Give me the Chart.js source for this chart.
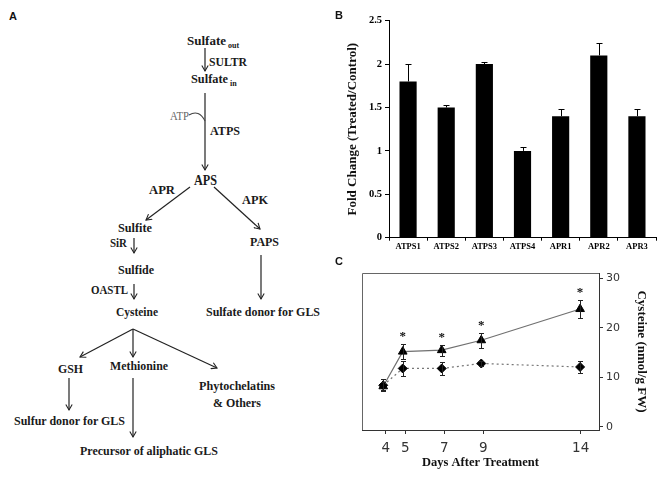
<!DOCTYPE html>
<html><head><meta charset="utf-8">
<script src="https://cdn.jsdelivr.net/npm/chart.js@4.4.1/dist/chart.umd.min.js"></script>
<style>
html,body{margin:0;padding:0;background:#fff;width:666px;height:484px;overflow:hidden;}
#wrap{position:relative;width:666px;height:484px;background:#fff;}
.panel{position:absolute;}
.plbl{position:absolute;font:bold 11px "Liberation Sans",Arial,sans-serif;color:#111;line-height:12px;}
svg text{font-family:"Liberation Serif","Times New Roman",serif;font-weight:bold;font-size:13px;fill:#1a1a1a;}
</style></head><body>
<div id="wrap">
<svg id="pathway" class="panel" style="left:0;top:0" width="330" height="484" viewBox="0 0 330 484">
<defs>
<marker id="ah" markerWidth="8" markerHeight="8" refX="6" refY="4" orient="auto" markerUnits="userSpaceOnUse">
<path d="M0.5,0.8 L6,4 L0.5,7.2" fill="none" stroke="#222" stroke-width="1.1"/>
</marker>
</defs>
<g stroke="#222" stroke-width="1.2" fill="none" marker-end="url(#ah)">
<line x1="205" y1="48" x2="205" y2="71"/>
<line x1="205" y1="93" x2="205" y2="170"/>
<line x1="190" y1="187" x2="146" y2="220"/>
<line x1="214" y1="187" x2="260" y2="229"/>
<line x1="134" y1="238" x2="134" y2="253"/>
<line x1="134" y1="284" x2="134" y2="299"/>
<line x1="261" y1="255" x2="261" y2="299"/>
<line x1="133" y1="329" x2="80" y2="357"/>
<line x1="133" y1="329" x2="133" y2="357"/>
<line x1="133" y1="329" x2="217" y2="368"/>
<line x1="69" y1="378" x2="69" y2="410"/>
<line x1="133" y1="378" x2="133" y2="437"/>
</g>
<path d="M189,115 Q199,109 205,121" stroke="#444" stroke-width="1.1" fill="none"/>
<text x="187" y="45" textLength="39" lengthAdjust="spacingAndGlyphs">Sulfate</text>
<text x="228" y="48" style="font-size:8px">out</text>
<text x="209" y="66" textLength="38" lengthAdjust="spacingAndGlyphs">SULTR</text>
<text x="191" y="83" textLength="37" lengthAdjust="spacingAndGlyphs">Sulfate</text>
<text x="230" y="86" style="font-size:8px">in</text>
<text x="170" y="120" style="font-weight:normal;fill:#666" textLength="19" lengthAdjust="spacingAndGlyphs">ATP</text>
<text x="210" y="135" textLength="30" lengthAdjust="spacingAndGlyphs">ATPS</text>
<text x="194" y="185" style="font-size:14px" textLength="23" lengthAdjust="spacingAndGlyphs">APS</text>
<text x="149" y="194" textLength="26" lengthAdjust="spacingAndGlyphs">APR</text>
<text x="242" y="204" textLength="26" lengthAdjust="spacingAndGlyphs">APK</text>
<text x="118" y="232" textLength="34" lengthAdjust="spacingAndGlyphs">Sulfite</text>
<text x="110" y="247" textLength="17" lengthAdjust="spacingAndGlyphs">SiR</text>
<text x="250" y="246" textLength="29" lengthAdjust="spacingAndGlyphs">PAPS</text>
<text x="118" y="274" textLength="36" lengthAdjust="spacingAndGlyphs">Sulfide</text>
<text x="91" y="294" textLength="37" lengthAdjust="spacingAndGlyphs">OASTL</text>
<text x="116" y="316" textLength="42" lengthAdjust="spacingAndGlyphs">Cysteine</text>
<text x="206" y="316" textLength="114" lengthAdjust="spacingAndGlyphs">Sulfate donor for GLS</text>
<text x="58" y="373" textLength="25" lengthAdjust="spacingAndGlyphs">GSH</text>
<text x="110" y="370" textLength="58" lengthAdjust="spacingAndGlyphs">Methionine</text>
<text x="199" y="390" textLength="76" lengthAdjust="spacingAndGlyphs">Phytochelatins</text>
<text x="213" y="407" textLength="48" lengthAdjust="spacingAndGlyphs">&amp; Others</text>
<text x="14" y="425" textLength="111" lengthAdjust="spacingAndGlyphs">Sulfur donor for GLS</text>
<text x="80" y="455" textLength="138" lengthAdjust="spacingAndGlyphs">Precursor of aliphatic GLS</text>
</svg>
<div class="panel" style="left:330px;top:0;width:336px;height:252px"><canvas id="chartB" width="336" height="252"></canvas></div>
<div class="panel" style="left:330px;top:250px;width:336px;height:234px"><canvas id="chartC" width="336" height="234"></canvas></div>
<div class="plbl" style="left:9px;top:10px">A</div>
<div class="plbl" style="left:335px;top:9px">B</div>
<div class="plbl" style="left:335px;top:255px">C</div>
</div>
<script>
// ---- Panel B data ----
const geneNames = ['ATPS1','ATPS2','ATPS3','ATPS4','APR1','APR2','APR3'];
const foldChange = [1.8, 1.5, 2.0, 1.0, 1.4, 2.1, 1.4];
const foldErr = [0.2, 0.03, 0.02, 0.04, 0.08, 0.14, 0.08];
const foldTicks = [0, 0.5, 1, 1.5, 2, 2.5];

// ---- Panel C data ----
const dayTicks = [4, 5, 7, 9, 14];
const sampleDays = [3.87, 4.87, 6.87, 8.9, 13.97];
const treatedCys = [8.2, 15.2, 15.5, 17.5, 23.8];
const treatedErr = [0.8, 1.5, 1.1, 1.5, 1.9];
const controlCys = [8.4, 11.8, 11.8, 12.8, 12.1];
const controlErr = [1.2, 1.6, 1.4, 0.5, 1.2];
const significant = [false, true, true, true, true];
const cysTicks = [0, 10, 20, 30];

const SERIF = '"Liberation Serif","Times New Roman",serif';
const SANS = '"DejaVu Sans",Arial,sans-serif';

const errBarsB = {
  id: 'errBarsB',
  afterDatasetsDraw(chart) {
    const ctx = chart.ctx, y = chart.scales.y;
    const meta = chart.getDatasetMeta(0);
    ctx.save();
    ctx.strokeStyle = '#000'; ctx.lineWidth = 1;
    meta.data.forEach((bar, i) => {
      const x = Math.round(bar.x) + 0.5;
      const y0 = y.getPixelForValue(foldChange[i]);
      const y1 = Math.round(y.getPixelForValue(foldChange[i] + foldErr[i])) + 0.5;
      ctx.beginPath();
      ctx.moveTo(x, y0); ctx.lineTo(x, y1);
      ctx.moveTo(x - 3, y1); ctx.lineTo(x + 3, y1);
      ctx.stroke();
    });
    ctx.restore();
  }
};

new Chart(document.getElementById('chartB'), {
  type: 'bar',
  data: {
    labels: geneNames,
    datasets: [{ data: foldChange, backgroundColor: '#000', borderWidth: 0, barPercentage: 0.45, categoryPercentage: 1 }]
  },
  options: {
    responsive: false, animation: false,
    layout: { padding: { left: 0, top: 20.7, right: 10, bottom: 0 } },
    plugins: { legend: { display: false }, tooltip: { enabled: false } },
    scales: {
      x: {
        type: 'category', offset: true,
        grid: { display: true, offset: true, drawOnChartArea: false, tickLength: 3, color: '#000' },
        border: { display: true, color: '#000', width: 1 },
        ticks: { font: { family: SERIF, weight: 'bold', size: 8.5 }, color: '#000', padding: 1, maxRotation: 0, autoSkip: false },
        afterFit: s => { s.height = 14.3; }
      },
      y: {
        min: 0, max: 2.5,
        afterBuildTicks: s => { s.ticks = foldTicks.map(v => ({ value: v })); },
        grid: { display: true, drawOnChartArea: false, tickLength: 4, color: '#000' },
        border: { display: true, color: '#000', width: 1 },
        ticks: { font: { family: SERIF, weight: 'bold', size: 10.5 }, color: '#000', padding: 3, callback: v => String(v) },
        title: { display: true, text: 'Fold Change (Treated/Control)', font: { family: SERIF, weight: 'bold', size: 13 }, color: '#111', padding: { top: 15, bottom: 0 } },
        afterFit: s => { s.width = 59; }
      }
    }
  },
  plugins: [errBarsB]
});

const decorC = {
  id: 'decorC',
  beforeDatasetsDraw(chart) {
    const ctx = chart.ctx, a = chart.chartArea;
    ctx.save();
    ctx.strokeStyle = '#666'; ctx.lineWidth = 1;
    ctx.beginPath();
    ctx.moveTo(Math.round(a.left) + 0.5, Math.round(a.bottom));
    ctx.lineTo(Math.round(a.left) + 0.5, Math.round(a.top) + 0.5);
    ctx.lineTo(Math.round(a.right), Math.round(a.top) + 0.5);
    ctx.stroke();
    ctx.restore();
  },
  afterDatasetsDraw(chart) {
    const ctx = chart.ctx, xs = chart.scales.x, ys = chart.scales.y;
    ctx.save();
    ctx.strokeStyle = '#222'; ctx.lineWidth = 1;
    const drawErr = (means, errs) => {
      means.forEach((m, i) => {
        const x = Math.round(xs.getPixelForValue(sampleDays[i])) + 0.5;
        const yt = Math.round(ys.getPixelForValue(m + errs[i])) + 0.5;
        const yb = Math.round(ys.getPixelForValue(m - errs[i])) + 0.5;
        ctx.beginPath();
        ctx.moveTo(x, yt); ctx.lineTo(x, yb);
        ctx.moveTo(x - 2.5, yt); ctx.lineTo(x + 2.5, yt);
        ctx.moveTo(x - 2.5, yb); ctx.lineTo(x + 2.5, yb);
        ctx.stroke();
      });
    };
    drawErr(treatedCys, treatedErr);
    drawErr(controlCys, controlErr);
    ctx.fillStyle = '#111';
    ctx.font = 'bold 13px ' + SERIF;
    ctx.textAlign = 'center'; ctx.textBaseline = 'alphabetic';
    significant.forEach((s, i) => {
      if (!s) return;
      const x = xs.getPixelForValue(sampleDays[i]);
      const y = ys.getPixelForValue(treatedCys[i] + treatedErr[i]) - 4;
      ctx.fillText('*', x, y);
    });
    ctx.restore();
  }
};

new Chart(document.getElementById('chartC'), {
  type: 'line',
  data: {
    datasets: [
      {
        data: sampleDays.map((d, i) => ({ x: d, y: treatedCys[i] })),
        borderColor: '#707070', borderWidth: 1.2, fill: false, tension: 0,
        pointStyle: 'triangle', pointRadius: 5, pointBackgroundColor: '#000', pointBorderColor: '#000', pointBorderWidth: 1
      },
      {
        data: sampleDays.map((d, i) => ({ x: d, y: controlCys[i] })),
        borderColor: '#777', borderWidth: 1.2, borderDash: [2, 3], fill: false, tension: 0,
        pointStyle: 'rectRot', pointRadius: 4.5, pointBackgroundColor: '#000', pointBorderColor: '#000', pointBorderWidth: 1
      }
    ]
  },
  options: {
    responsive: false, animation: false,
    layout: { padding: { left: 32, top: 23, right: 0, bottom: 0 } },
    plugins: { legend: { display: false }, tooltip: { enabled: false } },
    scales: {
      x: {
        type: 'linear', min: 2.78, max: 14.94,
        afterBuildTicks: s => { s.ticks = dayTicks.map(v => ({ value: v })); },
        grid: { display: true, drawOnChartArea: false, tickLength: 4, color: '#333' },
        border: { display: true, color: '#333', width: 1 },
        ticks: { font: { family: SANS, size: 13.5 }, color: '#333', padding: 6, maxRotation: 0, autoSkip: false },
        title: { display: true, text: 'Days After Treatment', font: { family: SERIF, weight: 'bold', size: 12.5 }, color: '#111', padding: { top: 0, bottom: 13.5 } },
        afterFit: s => { s.height = 54; }
      },
      y: {
        position: 'right', min: -0.63, max: 31.08,
        afterBuildTicks: s => { s.ticks = cysTicks.map(v => ({ value: v })); },
        grid: { display: true, drawOnChartArea: false, tickLength: 4, color: '#333' },
        border: { display: true, color: '#333', width: 1 },
        ticks: { font: { family: SANS, size: 11 }, color: '#333', padding: 3 },
        title: { display: true, text: 'Cysteine (nmol/g FW)', font: { family: SERIF, weight: 'bold', size: 13 }, color: '#111', padding: { top: 17, bottom: 0 } },
        afterFit: s => { s.width = 67; }
      }
    }
  },
  plugins: [decorC]
});
</script>
</body></html>
